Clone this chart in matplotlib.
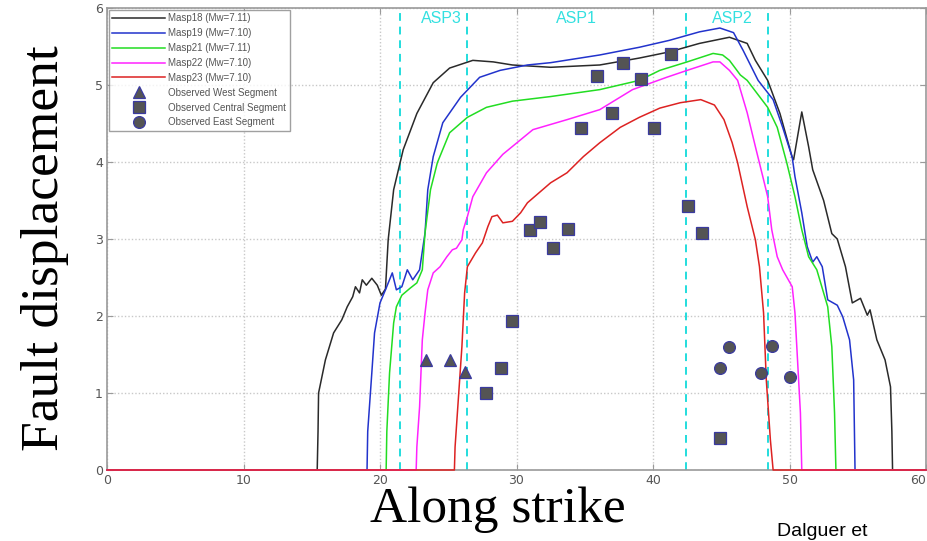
import matplotlib
matplotlib.use("Agg")
import matplotlib.pyplot as plt

# ---------------- data ----------------
masp18_x = [0, 15.4, 15.46, 15.5, 16.0, 16.6, 17.2, 17.6, 18.0, 18.2, 18.5, 18.7, 19.0, 19.4, 19.8, 20.1, 20.4,
            20.6, 21.0, 21.7, 22.7, 23.9, 25.1, 26.8, 28.3, 29.7, 32.5, 36.1, 39.0, 41.2, 43.4, 45.6,
            46.9, 47.5, 48.4, 49.3, 50.2, 50.3, 50.9, 51.4, 51.7, 52.5, 53.1, 53.5, 54.1, 54.6, 55.2,
            55.7, 55.9, 56.4, 57.0, 57.4, 57.5, 57.55, 60]
masp18_y = [0, 0, 0.5, 1.0, 1.43, 1.78, 1.95, 2.12, 2.25, 2.38, 2.3, 2.47, 2.4, 2.49, 2.4, 2.27, 2.35,
            2.99, 3.64, 4.16, 4.63, 5.03, 5.22, 5.32, 5.30, 5.26, 5.23, 5.26, 5.35, 5.43, 5.54, 5.62,
            5.54, 5.32, 5.06, 4.63, 4.06, 4.03, 4.65, 4.2, 3.9, 3.5, 3.07, 3.0, 2.64, 2.17, 2.23,
            2.01, 2.08, 1.69, 1.43, 1.08, 0.5, 0, 0]

masp19_x = [0, 19.05, 19.1, 19.4, 19.6, 20.0, 20.4, 20.9, 21.2, 21.6, 22.0, 22.4, 22.9, 23.3, 23.5, 23.9,
            24.6, 25.9, 27.3, 28.8, 30.8, 32.5, 36.1, 39.0, 41.2, 43.4, 44.9, 45.9, 46.6, 47.7, 48.8,
            49.5, 50.2, 50.4, 50.9, 51.3, 51.7, 52.0, 52.4, 52.8, 53.5, 53.9, 54.4, 54.7, 54.8, 60]
masp19_y = [0, 0, 0.5, 1.26, 1.78, 2.17, 2.34, 2.56, 2.34, 2.38, 2.6, 2.47, 2.6, 3.08, 3.64, 4.07,
            4.51, 4.84, 5.10, 5.19, 5.26, 5.29, 5.39, 5.49, 5.58, 5.69, 5.74, 5.68, 5.45, 5.06, 4.81,
            4.45, 4.06, 3.81, 3.34, 2.9, 2.7, 2.77, 2.64, 2.21, 2.14, 1.99, 1.69, 1.17, 0, 0]

masp21_x = [0, 20.45, 20.5, 20.7, 21.0, 21.2, 21.6, 22.2, 22.7, 23.1, 23.3, 23.7, 24.2, 25.1, 26.4, 27.8,
            29.7, 32.5, 36.1, 39.0, 40.5, 42.5, 44.4, 45.1, 45.6, 46.4, 46.9, 48.4, 49.1, 49.8, 50.4,
            50.9, 51.4, 52.0, 52.5, 52.8, 53.1, 53.3, 53.4, 60]
masp21_y = [0, 0, 0.5, 1.26, 1.91, 2.12, 2.27, 2.36, 2.43, 2.6, 3.08, 3.64, 3.99, 4.38, 4.58, 4.71,
            4.79, 4.85, 4.94, 5.06, 5.19, 5.30, 5.41, 5.39, 5.32, 5.13, 5.06, 4.71, 4.45, 3.99, 3.55,
            3.12, 2.77, 2.6, 2.3, 2.12, 1.6, 0.74, 0, 0]

masp22_x = [0, 22.65, 22.7, 22.9, 23.1, 23.3, 23.5, 23.9, 24.4, 24.9, 25.3, 25.6, 26.0, 26.1, 26.4, 26.8,
            27.8, 29.0, 31.2, 33.7, 36.1, 38.5, 41.0, 42.5, 44.4, 44.9, 45.6, 46.2, 46.9, 47.5, 48.1,
            48.4, 48.7, 49.1, 49.5, 50.2, 50.4, 50.6, 50.8, 50.9, 60]
masp22_y = [0, 0, 0.3, 0.82, 1.69, 2.04, 2.34, 2.56, 2.64, 2.77, 2.86, 2.88, 2.99, 3.12, 3.29, 3.55,
            3.86, 4.10, 4.42, 4.55, 4.68, 4.94, 5.10, 5.19, 5.30, 5.30, 5.19, 5.06, 4.64, 4.2, 3.77,
            3.55, 3.12, 2.77, 2.6, 2.38, 2.04, 1.39, 0.74, 0, 0]

masp23_x = [0, 25.45, 25.5, 25.7, 26.0, 26.2, 26.4, 27.0, 27.5, 27.9, 28.2, 28.6, 29.0, 29.7, 30.3, 30.8,
            32.5, 33.7, 34.9, 36.1, 37.6, 39.0, 40.5, 42.0, 43.5, 44.5, 45.2, 45.8, 46.2, 46.9, 47.5,
            47.8, 48.1, 48.3, 48.6, 48.8, 60]
masp23_y = [0, 0, 0.3, 0.82, 1.6, 2.3, 2.64, 2.82, 2.95, 3.16, 3.29, 3.31, 3.21, 3.23, 3.34, 3.47,
            3.73, 3.86, 4.07, 4.25, 4.45, 4.58, 4.70, 4.77, 4.81, 4.74, 4.55, 4.25, 3.99, 3.42, 2.99,
            2.64, 2.04, 1.17, 0.39, 0, 0]

west_x = [23.4, 25.1, 26.2]
west_y = [1.43, 1.43, 1.27]
central_x = [27.8, 28.9, 29.7, 31.0, 31.7, 32.7, 33.8, 34.7, 35.9, 37.0, 37.8, 39.1, 40.1, 41.3, 42.6, 43.6, 44.9]
central_y = [1.00, 1.32, 1.94, 3.12, 3.22, 2.88, 3.13, 4.44, 5.12, 4.64, 5.29, 5.08, 4.44, 5.40, 3.43, 3.08, 0.42]
east_x = [45.6, 44.9, 47.9, 48.7, 50.0]
east_y = [1.60, 1.32, 1.26, 1.61, 1.21]

asp_bounds = [21.45, 26.4, 42.4, 48.45]
asp_labels = ["ASP3", "ASP1", "ASP2"]
asp_label_x = [24.5, 34.4, 45.8]

series_labels = ["Masp18 (Mw=7.11)", "Masp19 (Mw=7.10)", "Masp21 (Mw=7.11)",
                 "Masp22 (Mw=7.10)", "Masp23 (Mw=7.10)"]
x_ticks = [0, 10, 20, 30, 40, 50, 60]
y_ticks = [0, 1, 2, 3, 4, 5, 6]

# ---------------- figure ----------------
W, H = 927, 541
fig = plt.figure(figsize=(W / 100, H / 100), dpi=100)
fig.patch.set_facecolor("white")
ax = fig.add_axes([107 / W, 1 - 470 / H, 819 / W, 462 / H])

for s in ax.spines.values():
    s.set_color("#9a9a9a")
    s.set_linewidth(1.2)

ax.set_xlim(0, 60)
ax.set_ylim(0, 6)
ax.set_xticks(x_ticks)
ax.set_xticklabels([str(t) for t in x_ticks])
ax.set_yticks(y_ticks)
ax.tick_params(direction="in", length=4, color="#9a9a9a", labelcolor="#555555",
               labelsize=9, top=True, right=True, pad=3)
ax.get_xticklabels()[-1].set_horizontalalignment("right")
ax.grid(True, linestyle=(0, (1, 1.5)), color="#c8c8c8", linewidth=1.0)
ax.set_axisbelow(True)

for xb in asp_bounds:
    ax.axvline(xb, color="#22dddd", linestyle=(0, (4, 3)), linewidth=1.4, zorder=2)
for lx, lab in zip(asp_label_x, asp_labels):
    ax.text(lx, 5.87, lab, color="#33e0e0", fontsize=11.5, ha="center", va="center",
            family="Liberation Sans")

colors = ["#2a2a2a", "#2233cc", "#22dd22", "#ff22ff", "#dd2222"]
xs = [masp18_x, masp19_x, masp21_x, masp22_x, masp23_x]
ys = [masp18_y, masp19_y, masp21_y, masp22_y, masp23_y]
handles = []
for i, (x, y, c, lab) in enumerate(zip(xs, ys, colors, series_labels)):
    h, = ax.plot(x, y, color=c, linewidth=1.1, label=lab, zorder=5 + i, clip_on=False)
    handles.append(h)

mk = dict(color="none", markerfacecolor="#545454", markeredgecolor="#3a3aa0",
          markeredgewidth=0.9, markersize=8.5, linestyle="none", zorder=12)
hw, = ax.plot(west_x, west_y, marker="^", label="Observed West Segment", **mk)
hc, = ax.plot(central_x, central_y, marker="s", label="Observed Central Segment", **mk)
he, = ax.plot(east_x, east_y, marker="o", label="Observed East Segment", **mk)
handles += [hw, hc, he]

leg = ax.legend(handles=handles, loc="upper left", frameon=True, numpoints=1,
                fancybox=False, edgecolor="#888888", borderpad=0.35, labelspacing=0.5,
                handlelength=5.4, handletextpad=0.35, borderaxespad=0.2,
                prop={"family": "Liberation Sans", "size": 7})
leg.get_frame().set_linewidth(1.0)
leg.set_zorder(20)
for t in leg.get_texts():
    t.set_color("#555555")

fig.text(45 / W, 1 - 248 / H, "Fault displacement", rotation=90, ha="center", va="center",
         fontsize=38.5, family="Liberation Serif", color="black")
fig.text(498 / W, 1 - 510 / H, "Along strike", ha="center", va="center",
         fontsize=37, family="Liberation Serif", color="black")
fig.text(777 / W, 1 - 540 / H, "Dalguer et", ha="left", va="bottom",
         fontsize=14, family="Liberation Sans", color="black")

fig.savefig("out.png", dpi=100)
